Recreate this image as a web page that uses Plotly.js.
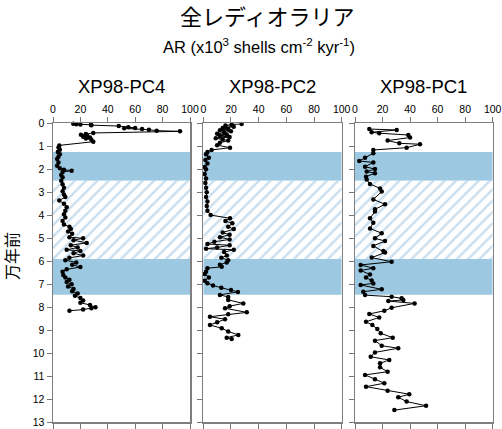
<!DOCTYPE html>
<html><head><meta charset="utf-8">
<script src="https://cdn.plot.ly/plotly-3.0.1.min.js"></script>
<style>html,body{margin:0;padding:0;background:#fff}</style>
</head><body><div id="chart" style="width:502px;height:429px"></div>
<script>
// ---- data ----
const mainTitle = "全レディオラリア";
const subTitle = "AR (x10<sup>3</sup> shells cm<sup>-2</sup> kyr<sup>-1</sup>)";
const yTitle = "万年前";
const coreNames = ["XP98-PC4", "XP98-PC2", "XP98-PC1"];

const pc4Age = [0.02,0.04,0.05,0.06,0.08,0.12,0.17,0.2,0.22,0.25,0.28,0.32,0.35,0.42,0.46,0.5,0.54,0.58,0.62,0.66,0.72,0.8,0.96,1.05,1.15,1.25,1.35,1.45,1.55,1.7,1.85,1.95,2.02,2.06,2.12,2.25,2.35,2.5,2.65,2.8,2.95,3.1,3.2,3.36,3.5,3.65,3.8,3.95,4.1,4.25,4.4,4.5,4.6,4.7,4.8,4.95,5.0,5.08,5.2,5.3,5.4,5.5,5.55,5.65,5.75,5.85,5.95,6.05,6.15,6.25,6.35,6.45,6.6,6.7,6.8,6.9,7.0,7.1,7.2,7.3,7.4,7.5,7.6,7.7,7.8,7.9,8.0,8.04,8.1,8.15];
const pc4AR  = [14.8,17,20,27.7,28,48,55,60,52,65,70,75.7,92.7,29.4,24,20.4,25,22,27,24,28,29.4,4.6,4,5,3.5,5,4,3,4,3,5,8,13.6,7,6,7,6,7,8,7,8,9,4.6,8,10,9,8,9,7,8,12,13,11,14,12,22,15,24.6,13,18,10,20,15,22,12,9,17,14,20,10,7,7.5,9,12,10,13.6,11,15,14,18,16,20,22,20,27,31,28,22,12];

const pc2Age = [0.03,0.05,0.1,0.15,0.2,0.25,0.3,0.35,0.4,0.45,0.5,0.55,0.6,0.65,0.7,0.75,0.85,0.95,1.06,1.16,1.25,1.35,1.5,1.6,1.75,1.9,2.0,2.2,2.4,2.6,2.8,3.0,3.2,3.4,3.6,3.8,3.99,4.13,4.25,4.35,4.5,4.6,4.75,4.85,4.95,5.05,5.15,5.25,5.3,5.4,5.45,5.5,5.6,5.75,5.85,5.95,6.05,6.15,6.24,6.3,6.45,6.55,6.7,6.85,6.95,7.05,7.15,7.25,7.33,7.46,7.55,7.68,7.83,7.95,8.04,8.22,8.3,8.41,8.52,8.65,8.77,8.91,9.05,9.2,9.32,9.38];
const pc2AR  = [27.7,20.5,16,22,14,18,12,20,15,10,17,12,19,9,14,18,12,10,19.3,6,3,2,4,1.5,3,1,2,1,2,1.5,2,2.5,2,3,2.5,3,5.3,19.3,16,21,18,22,14,19,12,19,8,3,19,10,2,22,15,17,13,18,16.9,12,13.3,3,2,1,4,1,3,7,13,20,25,12,18,18,28.9,19,15.7,31.4,18,4.8,15.7,10,4.8,13.3,18,25.3,16.9,20.5];

const pc1Age = [0.25,0.29,0.39,0.43,0.51,0.62,0.75,0.87,0.91,1.06,1.16,1.3,1.5,1.64,1.7,1.89,1.99,2.1,2.17,2.32,2.44,2.64,2.83,2.97,3.31,3.52,3.74,3.84,4.13,4.32,4.57,4.78,5.0,5.12,5.33,5.55,5.62,5.84,6.02,6.16,6.3,6.4,6.57,6.7,6.84,6.96,7.03,7.22,7.32,7.47,7.54,7.61,7.68,7.73,7.83,8.02,8.15,8.29,8.44,8.63,8.77,8.94,9.13,9.32,9.45,9.67,9.78,9.96,10.15,10.29,10.43,10.61,10.8,10.94,11.13,11.3,11.45,11.63,11.78,11.91,12.1,12.28,12.47];
const pc1AR  = [10.4,30.3,12.1,17.6,38.7,40,23.7,32.2,47.2,37.5,13.3,13.3,7.3,3.1,13.3,7.3,14.5,8.5,14.5,8,8.5,10.9,18.2,19.4,13.3,21.8,14.5,14.5,10.9,13.3,10.9,19.4,14.5,21.8,13.3,20.6,21.8,12.1,26.6,4.1,13.3,4.1,10.9,8,12.1,13.3,4.1,19.4,6,7.3,26.6,33.9,35.1,24.2,43.3,26.6,21.3,10.4,17.6,8,12.6,16.2,18.7,27.4,14.5,19.4,31.4,14.5,11.4,24.9,18.2,18.2,23.7,7.3,14.5,21.3,8,23.7,39.4,31.4,37.5,51.6,28.6];

const blueBands = [[1.25, 2.5], [5.9, 7.45]];
const hatchBand = [2.5, 5.9];
const xTicks = [0, 20, 40, 60, 80, 100];
const yTicks = [0,1,2,3,4,5,6,7,8,9,10,11,12,13];

// ---- layout helpers ----
const W = 502, H = 429;
const px = v => v / W;
const py = v => 1 - v / H;
const panelX = [[53, 190], [203.3, 341.7], [355, 492.7]];
const yDom = [py(422.3), py(123.3)];
const series = [[pc4AR, pc4Age], [pc2AR, pc2Age], [pc1AR, pc1Age]];

const traces = [];
const layout = {
  width: W, height: H,
  margin: {l: 0, r: 0, t: 0, b: 0},
  paper_bgcolor: '#fff', plot_bgcolor: 'rgba(0,0,0,0)',
  showlegend: false,
  font: {family: 'Liberation Sans, Arial, sans-serif', color: '#000'},
  shapes: [], annotations: []
};

series.forEach((s, i) => {
  const n = i === 0 ? '' : String(i + 1);
  const xa = 'x' + n, ya = 'y' + n;
  traces.push({
    type: 'scatter', mode: 'none', xaxis: xa, yaxis: ya,
    x: [0, 100, 100, 0, 0],
    y: [hatchBand[0], hatchBand[0], hatchBand[1], hatchBand[1], hatchBand[0]],
    fill: 'toself', fillcolor: '#fff',
    fillpattern: {shape: '/', fgcolor: '#c9deee', bgcolor: '#ffffff', size: 8, solidity: 0.3},
    hoverinfo: 'skip'
  });
  traces.push({
    type: 'scatter', mode: 'lines+markers', xaxis: xa, yaxis: ya,
    x: s[0], y: s[1],
    line: {color: '#000', width: 1},
    marker: {color: '#000', size: 4.5},
    cliponaxis: false
  });
  blueBands.forEach(b => {
    layout.shapes.push({type: 'rect', xref: xa, yref: ya, x0: 0, x1: 100, y0: b[0], y1: b[1],
      fillcolor: '#9dc8e1', line: {width: 0}, layer: 'below'});
  });
  layout['xaxis' + n] = {
    domain: [px(panelX[i][0]), px(panelX[i][1])], anchor: ya, side: 'top',
    range: [0, 100], tickvals: xTicks, ticks: 'outside', ticklen: 5, tickwidth: 1,
    tickcolor: '#777', showline: true, linecolor: '#7f7f7f', linewidth: 1.5,
    mirror: 'ticks', showgrid: false, zeroline: false, automargin: false,
    tickfont: {size: 10.5, color: '#000'}
  };
  layout['yaxis' + n] = {
    domain: yDom, anchor: xa, range: [13, 0], tickvals: yTicks,
    ticks: 'outside', ticklen: 5, tickwidth: 1, tickcolor: '#777',
    showticklabels: i === 0, showline: true, linecolor: '#7f7f7f', linewidth: 1.5,
    mirror: true, showgrid: false, zeroline: false, automargin: false,
    tickfont: {size: 10.5, color: '#000'}
  };
  layout.annotations.push({
    xref: 'paper', yref: 'paper', x: px((panelX[i][0] + panelX[i][1]) / 2), y: py(86.5),
    xanchor: 'center', yanchor: 'middle', showarrow: false, text: coreNames[i],
    font: {size: 18.5, color: '#000', family: 'Liberation Sans, Arial, sans-serif'}
  });
});

layout.annotations.push({
  xref: 'paper', yref: 'paper', x: px(267), y: py(15), xanchor: 'center', yanchor: 'middle',
  showarrow: false, text: mainTitle, borderpad: 0,
  font: {size: 22, color: '#000', family: 'Noto Sans CJK JP, sans-serif'}
});
layout.annotations.push({
  xref: 'paper', yref: 'paper', x: px(259), y: py(46), xanchor: 'center', yanchor: 'middle',
  showarrow: false, text: subTitle,
  font: {size: 16.5, color: '#000', family: 'Liberation Sans, Arial, sans-serif'}
});
layout.annotations.push({
  xref: 'paper', yref: 'paper', x: px(11), y: py(256), xanchor: 'center', yanchor: 'middle',
  showarrow: false, text: yTitle, textangle: -90,
  font: {size: 16, color: '#000', family: 'Noto Sans CJK JP, sans-serif'}
});

Plotly.newPlot('chart', traces, layout, {displayModeBar: false, staticPlot: true});
</script></body></html>
